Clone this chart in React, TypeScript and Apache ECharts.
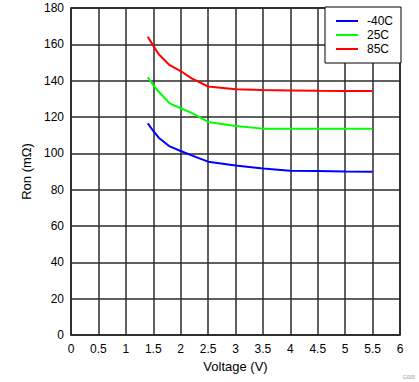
import React, { useEffect, useRef } from "react";
import * as echarts from "echarts";

const voltage = [1.4, 1.5, 1.6, 1.8, 2.0, 2.2, 2.5, 3.0, 3.5, 4.0, 4.5, 5.0, 5.5];
const ronM40 = [116.5, 112.3, 108.6, 103.8, 101.3, 98.9, 95.4, 93.3, 91.6, 90.4, 90.3, 90.0, 89.9];
const ron25 = [141.9, 137.6, 133.9, 127.5, 124.8, 122.3, 117.3, 115.0, 113.6, 113.5, 113.5, 113.5, 113.5];
const ron85 = [164.2, 159.3, 154.5, 148.5, 145.3, 141.3, 136.8, 135.3, 134.8, 134.6, 134.4, 134.3, 134.3];
const seriesNames = ["-40C", "25C", "85C"];
const seriesColors = ["#0000ff", "#00ff00", "#ff0000"];

const FONT = "'Liberation Sans', Arial, sans-serif";

export default function App() {
  const ref = useRef<HTMLDivElement>(null);
  useEffect(() => {
    document.body.style.margin = "0";
    if (!ref.current) return;
    const chart = echarts.init(ref.current, null, { renderer: "svg" });
    const values = [ronM40, ron25, ron85];
    chart.setOption({
      animation: false,
      backgroundColor: "#ffffff",
      textStyle: { fontFamily: FONT },
      grid: {
        left: 71,
        right: 19,
        top: 8,
        bottom: 47,
        show: true,
        borderColor: "#000000",
        borderWidth: 1.5,
        backgroundColor: "transparent",
      },
      legend: {
        orient: "vertical",
        right: 18,
        top: 7,
        data: seriesNames,
        icon: "rect",
        itemWidth: 22,
        itemHeight: 2,
        itemGap: 0,
        padding: [7, 8, 7, 11],
        backgroundColor: "#ffffff",
        borderColor: "#000000",
        borderWidth: 1,
        borderRadius: 0,
        textStyle: { fontSize: 12, color: "#000", fontFamily: FONT, padding: [0, 0, 0, 4], lineHeight: 14 },
      },
      xAxis: {
        type: "value",
        min: 0,
        max: 6,
        interval: 0.5,
        name: "Voltage (V)",
        nameLocation: "middle",
        nameGap: 23,
        nameTextStyle: { fontSize: 13, color: "#000", fontFamily: FONT },
        axisLine: { show: false },
        axisTick: { show: false },
        axisLabel: { fontSize: 12, color: "#000", margin: 8, fontFamily: FONT },
        splitLine: { show: true, lineStyle: { color: "#2b2b2b", width: 1.5 } },
      },
      yAxis: {
        type: "value",
        min: 0,
        max: 180,
        interval: 20,
        name: "Ron (m\u03a9)",
        nameLocation: "middle",
        nameGap: 31,
        nameTextStyle: { fontSize: 13, color: "#000", fontFamily: FONT },
        axisLine: { show: false },
        axisTick: { show: false },
        axisLabel: { fontSize: 12, color: "#000", margin: 7, fontFamily: FONT },
        splitLine: { show: true, lineStyle: { color: "#2b2b2b", width: 1.5 } },
      },
      series: seriesNames.map((name, i) => ({
        name,
        type: "line",
        data: voltage.map((v, j) => [v, values[i][j]]),
        showSymbol: false,
        symbol: "none",
        smooth: false,
        color: seriesColors[i],
        itemStyle: { color: seriesColors[i] },
        lineStyle: { color: seriesColors[i], width: 2 },
      })),
      graphic: [
        {
          type: "text",
          right: 4,
          bottom: 3,
          style: { text: "G000", fontSize: 5, fill: "#999999", fontFamily: FONT },
        },
      ],
    });
    return () => chart.dispose();
  }, []);
  return <div ref={ref} style={{ width: 419, height: 382 }} />;
}
